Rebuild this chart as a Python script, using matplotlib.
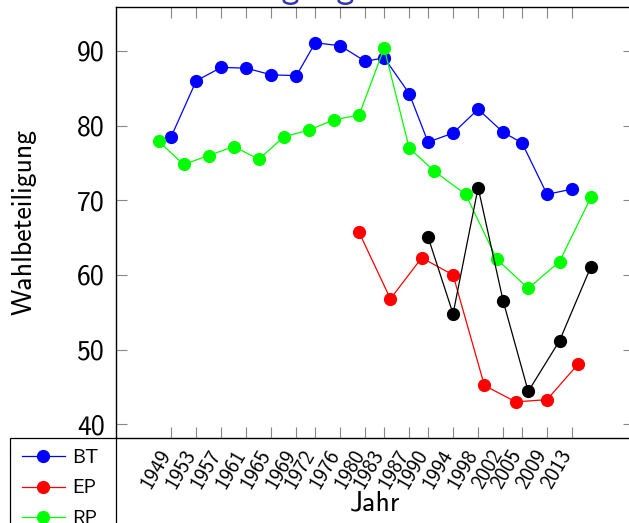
import matplotlib
matplotlib.use('Agg')
import matplotlib.pyplot as plt
import matplotlib.transforms as mtransforms

plt.rcParams['font.family'] = ['cmss10', 'DejaVu Sans']
plt.rcParams['axes.unicode_minus'] = False

# Wahlbeteiligung in Prozent
bt_years = [1949, 1953, 1957, 1961, 1965, 1969, 1972, 1976, 1980, 1983, 1987, 1990,
            1994, 1998, 2002, 2005, 2009, 2013]
bt = [78.5, 86.0, 87.8, 87.7, 86.8, 86.7, 91.1, 90.7, 88.6, 89.1, 84.3, 77.8,
      79.0, 82.2, 79.1, 77.7, 70.8, 71.5]

ep_years = [1979, 1984, 1989, 1994, 1999, 2004, 2009, 2014]
ep = [65.7, 56.8, 62.3, 60.0, 45.2, 43.0, 43.3, 48.1]

rp_years = [1947, 1951, 1955, 1959, 1963, 1967, 1971, 1975, 1979, 1983, 1987, 1991,
            1996, 2001, 2006, 2011, 2016]
rp = [77.9, 74.8, 76.0, 77.2, 75.5, 78.5, 79.4, 80.8, 81.4, 90.4, 77.0, 73.9,
      70.8, 62.1, 58.2, 61.8, 70.4]

kw_years = [1990, 1994, 1998, 2002, 2006, 2011, 2016]
kw = [65.1, 54.8, 71.7, 56.5, 44.4, 51.2, 61.1]

y_ticks = [40, 50, 60, 70, 80, 90]

fig = plt.figure(figsize=(6.29, 5.23), dpi=100)
# axes run past the right edge of the picture, like the cropped original
ax = fig.add_axes([116 / 629, 1 - 437.5 / 523, 517.5 / 629, 430.5 / 523])

style = dict(marker='o', markersize=8.5, linewidth=0.9)
ax.plot(bt_years, bt, color='#0000ff', label='BT', **style)
ax.plot(ep_years, ep, color='#ff0000', label='EP', **style)
ax.plot(rp_years, rp, color='#00ff00', label='RP', **style)
ax.plot(kw_years, kw, color='black', label='KW', **style)

ax.set_xlim(1940.2, 2022.8)
ax.set_ylim(38.23, 95.89)
ax.set_xticks(bt_years)
ax.set_xticklabels([str(y) for y in bt_years], rotation=60, ha='right',
                   va='center', rotation_mode='anchor', fontsize=15)
ax.set_yticks(y_ticks)
ax.tick_params(axis='both', direction='in', length=8, width=0.8, color='#888888',
               top=True, right=True)
ax.tick_params(axis='x', pad=10)
ax.tick_params(axis='y', labelsize=20, pad=8)

shift = mtransforms.ScaledTranslation(-5 / 100, 0, fig.dpi_scale_trans)
for lab in ax.get_xticklabels():
    lab.set_transform(lab.get_transform() + shift)

for sp in ax.spines.values():
    sp.set_linewidth(1.0)

ax.set_xlabel('Jahr', fontsize=20)
ax.xaxis.set_label_coords(0.5, -0.122)
ax.set_ylabel('Wahlbeteiligung', fontsize=20)
ax.yaxis.set_label_coords(-0.153, 0.5)

fig.text(114 / 629, 1 + 2 / 523, 'Wahlbeteiligung', fontsize=25.8, color='#3333b3',
         ha='left', va='baseline')

leg = ax.legend(loc='upper right', bbox_to_anchor=(0, 0), borderaxespad=0,
                fontsize=14, fancybox=False, edgecolor='black', framealpha=1,
                handlelength=2.2, handletextpad=0.4, labelspacing=0.63,
                borderpad=0.6)
leg.get_frame().set_linewidth(0.9)

fig.savefig('out.png', dpi=100)
